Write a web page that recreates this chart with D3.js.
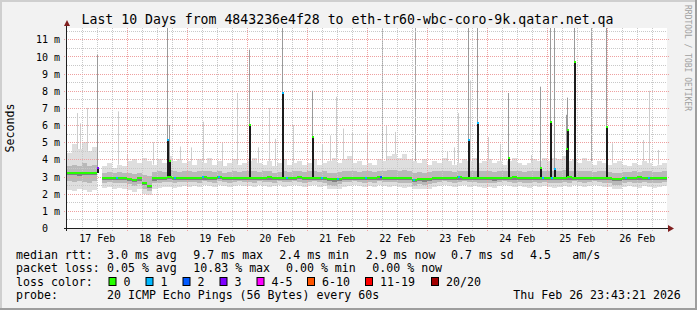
<!DOCTYPE html>
<html>
<head>
<meta charset="utf-8">
<script src="https://cdn.jsdelivr.net/npm/d3@7"></script>
<style>
  html, body { margin: 0; padding: 0; background: #f2f2f2; }
  svg { display: block; }
  text { font-family: "DejaVu Sans Mono", monospace; fill: #000; }
</style>
</head>
<body>
<svg id="chart" width="697" height="310"></svg>
<script>
// samples are 2 hours wide, first one starts 17 Feb 00:00 UTC
var stepHours = 2;

// median rtt in ms (null = no data)
var medianRtt = [
  3.18, 3.20, 3.17, 3.19, 3.18, 3.20, null, 2.92, 2.91, 2.93, 2.90, 2.92,
  2.86, 2.80, 2.88, 2.60, 2.42, 2.88, 2.91, 2.93, 2.95, 2.93, 2.92, 2.93,
  2.90, 2.93, 2.91, 2.94, 2.93, 2.92, 2.95, 2.93, 2.91, 2.92, 2.93, 2.92,
  2.92, 2.93, 2.90, 2.92, 2.94, 2.92, 2.93, 2.91, 2.92, 2.93, 2.95, 2.92,
  2.93, 2.92, 2.91, 2.92, 2.84, 2.82, 2.85, 2.92, 2.93, 2.92, 2.91, 2.93,
  2.93, 2.92, 2.94, 2.93, 2.92, 2.93, 2.91, 2.92, 2.90, 2.80, 2.86, 2.82,
  2.85, 2.91, 2.92, 2.93, 2.92, 2.93, 2.94, 2.92, 2.93, 2.92, 2.93, 2.92,
  2.93, 2.88, 2.92, 2.93, 2.92, 2.94, 2.93, 2.92, 2.93, 2.92, 2.91, 2.93,
  2.92, 2.90, 2.93, 2.92, 2.94, 2.93, 2.92, 2.93, 2.92, 2.93, 2.92, 2.93,
  2.92, 2.84, 2.83, 2.92, 2.93, 2.92, 2.94, 2.93, 2.90, 2.92, 2.93, 2.92
];

// outer smoke (slowest / fastest ping)
var smokeHi = [
  4.4, 4.9, 4.6, 5.0, 4.5, 4.7, null, 3.6, 3.8, 3.5, 3.7, 3.6,
  3.9, 4.0, 3.8, 4.1, 3.9, 3.7, 4.0, 3.8, 4.2, 3.9, 4.0, 3.8,
  3.9, 3.7, 4.0, 3.8, 4.1, 3.7, 3.9, 3.6, 3.8, 4.0, 3.7, 3.8,
  3.9, 4.1, 3.8, 3.7, 3.9, 3.6, 3.8, 4.0, 3.7, 3.8, 3.9, 3.7,
  3.8, 4.0, 3.7, 3.8, 3.9, 4.1, 3.8, 4.0, 4.2, 3.8, 3.9, 3.7,
  3.8, 3.7, 4.0, 3.9, 4.2, 4.3, 4.1, 4.3, 4.0, 3.9, 3.8, 4.0,
  3.7, 3.9, 3.8, 4.1, 3.9, 3.7, 3.8, 4.0, 3.9, 4.1, 3.8, 3.9,
  4.0, 3.8, 3.9, 3.7, 3.9, 4.1, 3.8, 3.7, 3.8, 4.0, 3.9, 4.1,
  3.9, 4.1, 4.0, 4.2, 3.9, 4.0, 3.8, 4.1, 3.9, 3.7, 3.9, 3.8,
  3.7, 3.8, 3.9, 3.7, 3.6, 3.8, 3.7, 3.9, 3.8, 3.6, 3.7, 3.8
];
var smokeLo = [
  2.20, 2.15, 2.25, 2.20, 2.10, 2.20, null, 2.35, 2.40, 2.30, 2.35, 2.30,
  2.20, 2.10, 2.25, 2.00, 1.95, 2.30, 2.35, 2.40, 2.40, 2.35, 2.40, 2.45,
  2.40, 2.45, 2.40, 2.50, 2.45, 2.40, 2.50, 2.45, 2.40, 2.45, 2.50, 2.45,
  2.45, 2.40, 2.50, 2.45, 2.40, 2.45, 2.50, 2.40, 2.45, 2.50, 2.45, 2.40,
  2.45, 2.50, 2.40, 2.45, 2.30, 2.25, 2.30, 2.40, 2.45, 2.50, 2.45, 2.40,
  2.45, 2.40, 2.50, 2.45, 2.40, 2.45, 2.40, 2.35, 2.40, 2.25, 2.30, 2.25,
  2.30, 2.40, 2.45, 2.50, 2.45, 2.40, 2.45, 2.50, 2.40, 2.45, 2.40, 2.35,
  2.40, 2.35, 2.45, 2.50, 2.45, 2.40, 2.45, 2.40, 2.35, 2.45, 2.40, 2.45,
  2.40, 2.35, 2.40, 2.45, 2.40, 2.50, 2.45, 2.40, 2.45, 2.50, 2.45, 2.40,
  2.40, 2.30, 2.30, 2.40, 2.45, 2.40, 2.35, 2.45, 2.40, 2.35, 2.40, 2.45
];

// inner (denser) smoke
var innerHi = [
  3.60, 3.70, 3.60, 3.80, 3.60, 3.70, null, 3.20, 3.25, 3.20, 3.25, 3.20,
  3.20, 3.15, 3.20, 3.10, 3.05, 3.25, 3.30, 3.25, 3.40, 3.30, 3.25, 3.30,
  3.30, 3.25, 3.30, 3.35, 3.30, 3.25, 3.30, 3.20, 3.25, 3.30, 3.25, 3.30,
  3.30, 3.35, 3.25, 3.30, 3.30, 3.20, 3.25, 3.30, 3.25, 3.30, 3.35, 3.25,
  3.30, 3.30, 3.25, 3.30, 3.20, 3.20, 3.25, 3.30, 3.35, 3.30, 3.25, 3.30,
  3.30, 3.25, 3.35, 3.30, 3.40, 3.40, 3.35, 3.40, 3.30, 3.20, 3.25, 3.20,
  3.25, 3.30, 3.30, 3.35, 3.30, 3.25, 3.30, 3.35, 3.30, 3.35, 3.30, 3.30,
  3.35, 3.25, 3.30, 3.30, 3.30, 3.35, 3.30, 3.25, 3.30, 3.35, 3.30, 3.35,
  3.30, 3.35, 3.35, 3.40, 3.30, 3.35, 3.30, 3.35, 3.30, 3.25, 3.30, 3.30,
  3.25, 3.20, 3.20, 3.25, 3.25, 3.30, 3.25, 3.30, 3.30, 3.25, 3.25, 3.30
];
var innerLo = [
  2.75, 2.70, 2.75, 2.70, 2.65, 2.75, null, 2.65, 2.70, 2.65, 2.60, 2.65,
  2.55, 2.45, 2.55, 2.25, 2.15, 2.60, 2.65, 2.70, 2.70, 2.65, 2.70, 2.70,
  2.70, 2.70, 2.65, 2.75, 2.70, 2.65, 2.75, 2.70, 2.65, 2.70, 2.75, 2.70,
  2.70, 2.65, 2.75, 2.70, 2.70, 2.65, 2.75, 2.70, 2.70, 2.75, 2.70, 2.65,
  2.70, 2.75, 2.70, 2.65, 2.50, 2.45, 2.55, 2.70, 2.70, 2.75, 2.70, 2.65,
  2.70, 2.65, 2.75, 2.70, 2.70, 2.70, 2.65, 2.60, 2.60, 2.45, 2.55, 2.50,
  2.55, 2.65, 2.70, 2.75, 2.70, 2.65, 2.70, 2.75, 2.70, 2.70, 2.65, 2.60,
  2.65, 2.60, 2.70, 2.75, 2.70, 2.65, 2.70, 2.65, 2.60, 2.70, 2.65, 2.70,
  2.65, 2.60, 2.65, 2.70, 2.65, 2.75, 2.70, 2.65, 2.70, 2.75, 2.70, 2.65,
  2.65, 2.50, 2.50, 2.65, 2.70, 2.65, 2.60, 2.70, 2.65, 2.60, 2.65, 2.70
];

// short samples with a high median (hours after 17 Feb 00:00)
var spikeHours = [12.1, 40.3, 40.9, 73.0, 86.2, 98.0, 160.6, 164.0, 176.6, 189.3, 193.3, 195.0, 199.7, 200.3, 203.0, 215.6];
var spikeMedian = [3.5, 5.15, 3.92, 6.0, 7.85, 5.33, 5.13, 6.14, 4.06, 3.52, 6.16, 3.42, 4.6, 5.7, 9.7, 5.9];
var spikeMax = [10.1, 11.7, 6.0, 10.4, 11.7, 8.0, 11.7, 11.7, 7.87, 8.24, 11.7, 11.7, 6.6, 7.6, 11.7, 11.7];
var spikeLoss = [3, 1, 0, 0, 1, 0, 1, 1, 0, 0, 0, 1, 0, 0, 0, 0];

// single slow pings
var needleHours = [4.0, 5.3, 8.0, 20.6, 24.1, 34.7, 45.3, 49.7, 54.4, 62.0, 68.0, 76.6, 81.0, 83.3, 90.6,
  102.2, 105.3, 107.7, 110.6, 114.0, 120.0, 124.0, 126.0, 127.6, 131.3, 139.3, 152.0, 155.0, 156.6,
  161.3, 168.6, 173.3, 185.7, 209.7, 218.0, 230.4, 233.0, 236.6];
var needleTop = [6.7, 6.1, 7.0, 6.8, 4.3, 5.0, 4.75, 4.7, 6.2, 5.0, 7.87, 4.7, 7.0, 5.2, 6.0,
  4.9, 5.4, 7.65, 5.8, 5.6, 5.6, 4.0, 11.7, 6.0, 5.6, 11.7, 4.45, 4.7, 6.7,
  8.6, 5.3, 4.9, 4.25, 11.7, 4.94, 5.13, 8.0, 4.55];

// samples with some packet loss
var lossHours = [20.1, 43.3, 54.5, 60.9, 88.1, 102.1, 108.5, 119.7, 125.7, 139.0, 157.0, 190.4, 194.1, 223.7, 233.0];
var lossCount = [1, 1, 1, 1, 1, 1, 1, 1, 2, 1, 1, 1, 1, 1, 1];

var lossLabels = ["0", "1", "2", "3", "4-5", "6-10", "11-19", "20/20"];
var lossColors = ["#26ff00", "#00b8ff", "#0059ff", "#7e00ff", "#ff00ff", "#ff5500", "#ff0000", "#a10000"];

var rttStats = ["3.0 ms avg", "9.7 ms max", "2.4 ms min", "2.9 ms now", "0.7 ms sd", "4.5", "am/s"];
var lossStats = ["0.05 % avg", "10.83 % max", "0.00 % min", "0.00 % now"];
var yTicks = [0, 1, 2, 3, 4, 5, 6, 7, 8, 9, 10, 11];

var title = "Last 10 Days from 4843236e4f28 to eth-tr60-wbc-coro-9k.qatar.net.qa";
var probeText = "20 ICMP Echo Pings (56 Bytes) every 60s";
var stamp = "Thu Feb 26 23:43:21 2026";

var startTime = Date.UTC(2026, 1, 17);
var endTime = Date.UTC(2026, 1, 27);

var svg = d3.select("#chart");

var x = d3.scaleUtc()
	.domain([new Date(startTime), new Date(endTime)])
	.range([66.7, 666.7]);
var y = d3.scaleLinear()
	.domain([0, 11.66])
	.range([228, 28]);

function at(h) { return new Date(startTime + h * 3600e3); }
function lossColor(n) {
	if (n <= 3) return lossColors[n];
	if (n <= 5) return lossColors[4];
	if (n <= 10) return lossColors[5];
	if (n <= 19) return lossColors[6];
	return lossColors[7];
}
function sampleIndex(h) {
	var i = Math.floor(h / stepHours);
	while (i > 0 && medianRtt[i] == null) i--;
	return i;
}

// frame and background
svg.append("rect").attr("width", 697).attr("height", 310).attr("fill", "#f2f2f2");
svg.append("rect").attr("width", 697).attr("height", 2).attr("fill", "#cfcfcf");
svg.append("rect").attr("width", 2).attr("height", 310).attr("fill", "#cfcfcf");
svg.append("rect").attr("y", 308).attr("width", 697).attr("height", 2).attr("fill", "#9e9e9e");
svg.append("rect").attr("x", 695).attr("width", 2).attr("height", 310).attr("fill", "#9e9e9e");

svg.append("rect")
	.attr("x", 67).attr("y", 28).attr("width", 600).attr("height", 200)
	.attr("fill", "#fff");

svg.append("clipPath").attr("id", "plotclip")
	.append("rect").attr("x", 67).attr("y", 28).attr("width", 600).attr("height", 200);

var g = svg.append("g").attr("clip-path", "url(#plotclip)");

var samples = medianRtt.map(function (m, i) {
	return { i: i, med: m, hi: smokeHi[i], lo: smokeLo[i], ihi: innerHi[i], ilo: innerLo[i] };
}).filter(function (d) { return d.med != null; });

function sx(d) { return x(at(d.i * stepHours)); }
function sw(d) { return x(at((d.i + 1) * stepHours)) - x(at(d.i * stepHours)); }

// outer smoke
g.selectAll("rect.smoke")
	.data(samples)
	.enter().append("rect")
		.attr("class", "smoke")
		.attr("x", sx).attr("width", sw)
		.attr("y", function (d) { return y(d.hi); })
		.attr("height", function (d) { return y(d.lo) - y(d.hi); })
		.attr("fill", "#dedede")
		.attr("shape-rendering", "crispEdges");

// needles
g.selectAll("line.needle")
	.data(needleHours)
	.enter().append("line")
		.attr("x1", function (h) { return Math.round(x(at(h))) + 0.5; })
		.attr("x2", function (h) { return Math.round(x(at(h))) + 0.5; })
		.attr("y1", function (h) { return y(smokeHi[sampleIndex(h)]); })
		.attr("y2", function (h, i) { return y(needleTop[i]); })
		.style("stroke", function (h, i) { return needleTop[i] > 11 ? "#a8a8a8" : "#cdcdcd"; })
		.style("stroke-width", 1);

// inner smoke
g.selectAll("rect.inner")
	.data(samples)
	.enter().append("rect")
		.attr("class", "inner")
		.attr("x", sx).attr("width", sw)
		.attr("y", function (d) { return y(d.ihi); })
		.attr("height", function (d) { return y(d.ilo) - y(d.ihi); })
		.attr("fill", "#b9b9b9")
		.attr("shape-rendering", "crispEdges");

// grid
var gridG = svg.append("g").attr("shape-rendering", "crispEdges");
var minorY = d3.range(0.5, 11.66, 1);
gridG.selectAll("line.hminor")
	.data(minorY)
	.enter().append("line")
		.attr("x1", 67).attr("x2", 667)
		.attr("y1", function (d) { return Math.round(y(d)) + 0.5; })
		.attr("y2", function (d) { return Math.round(y(d)) + 0.5; })
		.style("stroke", "#c8c8c8").style("stroke-dasharray", "1,1");
var minorX = d3.utcHour.every(6).range(at(1), at(240)).filter(function (t) { return t.getUTCHours() !== 0; });
gridG.selectAll("line.vminor")
	.data(minorX)
	.enter().append("line")
		.attr("x1", function (d) { return Math.round(x(d)) + 0.5; })
		.attr("x2", function (d) { return Math.round(x(d)) + 0.5; })
		.attr("y1", 28).attr("y2", 231)
		.style("stroke", "#c8c8c8").style("stroke-dasharray", "1,1");
gridG.selectAll("line.hmajor")
	.data(yTicks.slice(1))
	.enter().append("line")
		.attr("x1", 64).attr("x2", 669)
		.attr("y1", function (d) { return Math.round(y(d)) + 0.5; })
		.attr("y2", function (d) { return Math.round(y(d)) + 0.5; })
		.style("stroke", "#eea0a0").style("stroke-dasharray", "1,1");
var majorX = d3.utcDay.range(at(1), at(240));
gridG.selectAll("line.vmajor")
	.data(majorX)
	.enter().append("line")
		.attr("x1", function (d) { return Math.round(x(d)) + 0.5; })
		.attr("x2", function (d) { return Math.round(x(d)) + 0.5; })
		.attr("y1", 28).attr("y2", 231)
		.style("stroke", "#eea0a0").style("stroke-dasharray", "1,1");

var g2 = svg.append("g").attr("clip-path", "url(#plotclip)");

// high samples: grey tail to the slowest ping, dark body to the median
g2.selectAll("line.tail")
	.data(spikeHours)
	.enter().append("line")
		.attr("x1", function (h) { return Math.round(x(at(h))) + 0.5; })
		.attr("x2", function (h) { return Math.round(x(at(h))) + 0.5; })
		.attr("y1", function (h, i) { return y(spikeMedian[i]); })
		.attr("y2", function (h, i) { return y(spikeMax[i]); })
		.style("stroke", "#9a9a9a").style("stroke-width", 1);
g2.selectAll("rect.body")
	.data(spikeHours)
	.enter().append("rect")
		.attr("x", function (h) { return Math.round(x(at(h))) - 0.5; })
		.attr("width", 2)
		.attr("y", function (h, i) { return y(spikeMedian[i]); })
		.attr("height", function (h, i) { return y(medianRtt[sampleIndex(h)]) - y(spikeMedian[i]); })
		.attr("fill", "#1c1c1c")
		.attr("shape-rendering", "crispEdges");

// median line
g2.selectAll("rect.medshade")
	.data(samples)
	.enter().append("rect")
		.attr("x", sx).attr("width", sw)
		.attr("y", function (d) { return y(d.med) + 0.5; })
		.attr("height", 1.5)
		.attr("fill", "#808080")
		.attr("shape-rendering", "crispEdges");
g2.selectAll("rect.med")
	.data(samples)
	.enter().append("rect")
		.attr("x", sx).attr("width", sw)
		.attr("y", function (d) { return y(d.med) - 1.2; })
		.attr("height", 2)
		.attr("fill", lossColors[0])
		.attr("shape-rendering", "crispEdges");

// loss markers on the median and on spike tops
g2.selectAll("rect.loss")
	.data(lossHours)
	.enter().append("rect")
		.attr("x", function (h) { return Math.round(x(at(h))) - 1; })
		.attr("width", 2)
		.attr("y", function (h) { return y(medianRtt[sampleIndex(h)]) - 1.2; })
		.attr("height", 2)
		.attr("fill", function (h, i) { return lossColor(lossCount[i]); })
		.attr("shape-rendering", "crispEdges");
g2.selectAll("rect.spiketop")
	.data(spikeHours)
	.enter().append("rect")
		.attr("x", function (h) { return Math.round(x(at(h))) - 0.5; })
		.attr("width", 2)
		.attr("y", function (h, i) { return y(spikeMedian[i]) - 1; })
		.attr("height", 2)
		.attr("fill", function (h, i) { return lossColor(spikeLoss[i]); })
		.attr("shape-rendering", "crispEdges");

// axes
var xAxis = d3.axisBottom(x)
	.tickValues(d3.utcDay.range(at(0), at(240)).map(function (d) { return d3.utcHour.offset(d, 12); }))
	.tickFormat(d3.utcFormat("%d %b"))
	.tickSize(0);
var xg = svg.append("g").attr("transform", "translate(0,228)").call(xAxis);
xg.select(".domain").remove();
xg.selectAll("text").attr("y", 13.5).attr("dy", 0)
	.style("font-family", "DejaVu Sans Mono").style("font-size", "10px").attr("fill", "#000");

var yAxis = d3.axisLeft(y)
	.tickValues(yTicks)
	.tickFormat(function (d) { return d === 0 ? "0" : d + " m"; })
	.tickSize(0).tickPadding(7);
var yg = svg.append("g").attr("transform", "translate(67,0)").call(yAxis);
yg.select(".domain").remove();
yg.selectAll("text")
	.attr("dy", "0.36em")
	.attr("x", function (d) { return d === 0 ? -19 : -7; })
	.style("font-family", "DejaVu Sans Mono").style("font-size", "10px").attr("fill", "#000");

svg.append("line").attr("x1", 64).attr("x2", 670).attr("y1", 228.5).attr("y2", 228.5)
	.style("stroke", "#1f1f1f").attr("shape-rendering", "crispEdges");
svg.append("line").attr("x1", 66.5).attr("x2", 66.5).attr("y1", 231).attr("y2", 24)
	.style("stroke", "#1f1f1f").attr("shape-rendering", "crispEdges");
svg.append("path").attr("d", "M64,26L70,26L67,20Z").attr("fill", "#801f1f");
svg.append("path").attr("d", "M668,225L668,232L674,228.5Z").attr("fill", "#801f1f");

// texts
svg.append("text").attr("x", 347.5).attr("y", 24).attr("text-anchor", "middle")
	.style("font-size", "13.2px").text(title);
svg.append("text").attr("transform", "translate(14,128) rotate(-90)").attr("text-anchor", "middle")
	.style("font-size", "11.6px").text("Seconds");
svg.append("text").attr("transform", "translate(684.5,5) rotate(90)")
	.style("font-size", "8px").style("fill", "#a0a0a0")
	.text("RRDTOOL / TOBI OETIKER");

var legend = svg.append("g").style("font-size", "11.6px");
function lt(xx, yy, s) { legend.append("text").attr("x", xx).attr("y", yy).style("white-space", "pre").text(s); }

var rttX = [107, 193.3, 279.3, 365.7, 451, 530, 572.3];
lt(16, 258.5, "median rtt:");
rttStats.forEach(function (s, i) { lt(rttX[i], 258.5, s); });

var lossX = [107, 193.3, 286, 372.3];
lt(16, 272, "packet loss:");
lossStats.forEach(function (s, i) { lt(lossX[i], 272, s); });

var boxX = [108.5, 145.5, 182.5, 219.5, 256.5, 307, 365, 431];
lt(16, 285.5, "loss color:");
lossLabels.forEach(function (s, i) {
	legend.append("rect")
		.attr("x", boxX[i] + 0.5).attr("y", 277.5).attr("width", 7).attr("height", 8)
		.attr("fill", lossColors[i]).attr("stroke", "#000").attr("stroke-width", 1);
	lt(boxX[i] + 15, 285.5, s);
});

lt(16, 299, "probe:");
lt(107, 299, probeText);
lt(513.3, 299, stamp);
</script>
</body>
</html>
